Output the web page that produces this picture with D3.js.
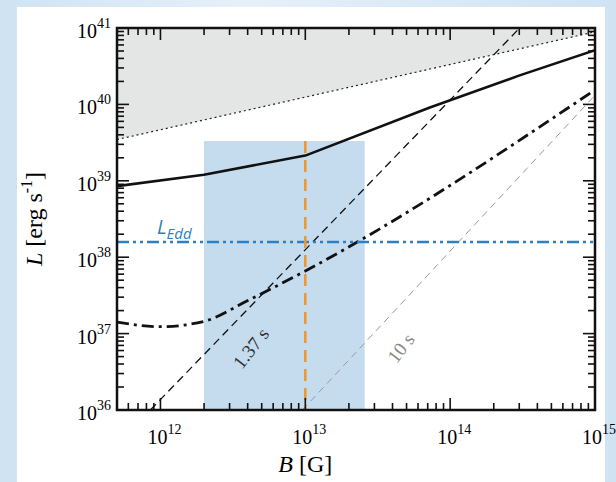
<!DOCTYPE html>
<html><head><meta charset="utf-8">
<script src="https://cdn.jsdelivr.net/npm/d3@7"></script>
</head><body style="margin:0">
<script>
// data (log10 values)
const dotted = [[11.70, 39.54], [15, 40.95]];
const solid = [[11.70, 38.93], [12.3, 39.08], [13, 39.33], [13.86, 39.96], [14.48, 40.38], [15, 40.71]];
const dashDot = [[11.70, 37.15], [12, 37.09], [12.3, 37.16], [12.6, 37.43], [13, 37.82], [15, 40.19]];
const lEdd = 38.2;
const line137 = [[11.93, 36], [14.48, 41]];
const line10 = [[12.98, 36], [15, 40.12]];
const band = [12.3, 13.41, 39.52];
const orangeX = 13;
const xTicks = [12, 13, 14, 15], yTicks = [36, 37, 38, 39, 40, 41];

const W = 616, H = 482, m = {l: 117, r: 21, t: 28, b: 72};
const svg = d3.select("body").append("svg").attr("width", W).attr("height", H).style("display","block");
const defs = svg.append("defs");
const gr = defs.append("linearGradient").attr("id", "bg");
gr.append("stop").attr("offset", "0").attr("stop-color", "#cfe3f3");
gr.append("stop").attr("offset", "0.4").attr("stop-color", "#e6f0f9");
gr.append("stop").attr("offset", "1").attr("stop-color", "#cfe3f3");
svg.append("rect").attr("width", W).attr("height", H).attr("fill", "url(#bg)");
svg.append("rect").attr("x", 17).attr("y", 7).attr("width", 588).attr("height", H).attr("fill", "#fff");

const x = d3.scaleLinear().domain([11.70, 15]).range([m.l, W - m.r]);
const y = d3.scaleLinear().domain([36, 41]).range([H - m.b, m.t]);
const line = d3.line().x(d => x(d[0])).y(d => y(d[1]));
defs.append("clipPath").attr("id","plotclip").append("rect")
  .attr("x", x(11.7)).attr("y", y(41)).attr("width", x(15)-x(11.7)).attr("height", y(36)-y(41));
const p = svg.append("g").attr("clip-path","url(#plotclip)");

p.append("path").attr("d", line([[11.7,41],...dotted,[15,41]])).attr("fill", "#e4e5e5");
p.append("rect").attr("x", x(band[0])).attr("y", y(band[2])).attr("width", x(band[1]) - x(band[0]))
  .attr("height", y(36) - y(band[2])).attr("fill", "#c5dcef");
p.append("path").attr("d", line(dotted)).attr("fill","none").attr("stroke","#222").attr("stroke-width",1.2).attr("stroke-dasharray","2,3");
p.append("path").attr("d", line(line10)).attr("fill","none").attr("stroke","#999").attr("stroke-width",1).attr("stroke-dasharray","7,5");
p.append("path").attr("d", line(line137)).attr("fill","none").attr("stroke","#111").attr("stroke-width",1.3).attr("stroke-dasharray","8,5");
p.append("path").attr("d", line(solid)).attr("fill","none").attr("stroke","#111").attr("stroke-width",2.6).attr("stroke-linejoin","round");
p.append("path").attr("d", d3.line().curve(d3.curveMonotoneX).x(d=>x(d[0])).y(d=>y(d[1]))(dashDot)).attr("fill","none").attr("stroke","#111").attr("stroke-width",2.8).attr("stroke-dasharray","12,5,3,5");
p.append("line").attr("x1", x(11.7)).attr("x2", x(15)).attr("y1", y(lEdd)).attr("y2", y(lEdd))
  .attr("stroke","#2f7fc1").attr("stroke-width",2.5).attr("stroke-dasharray","12,4,3,4,3,4");
p.append("line").attr("x1", x(orangeX)).attr("x2", x(orangeX)).attr("y1", y(band[2])).attr("y2", y(36))
  .attr("stroke","#f0952a").attr("stroke-width",2.5).attr("stroke-dasharray","12,7");

// ticks, inward and mirrored
function minors(lo, hi) { const r = []; for (let d = Math.floor(lo); d < hi; d++) for (let k = 1; k < 10; k++) { const v = d + Math.log10(k); if (v >= lo - 1e-9 && v <= hi + 1e-9) r.push([v, k === 1]); } return r; }
const tickG = svg.append("g");
minors(11.7, 15).forEach(([v, maj]) => {
  const L = maj ? 12 : 7;
  tickG.append("line").attr("x1", x(v)).attr("x2", x(v)).attr("y1", y(36)).attr("y2", y(36) - L).attr("stroke","#111").attr("stroke-width",1.6);
  tickG.append("line").attr("x1", x(v)).attr("x2", x(v)).attr("y1", y(41)).attr("y2", y(41) + L).attr("stroke","#111").attr("stroke-width",1.6);
});
minors(36, 41).forEach(([v, maj]) => {
  const L = maj ? 12 : 7;
  tickG.append("line").attr("y1", y(v)).attr("y2", y(v)).attr("x1", x(11.7)).attr("x2", x(11.7) + L).attr("stroke","#111").attr("stroke-width",1.6);
  tickG.append("line").attr("y1", y(v)).attr("y2", y(v)).attr("x1", x(15)).attr("x2", x(15) - L).attr("stroke","#111").attr("stroke-width",1.6);
});
svg.append("rect").attr("x", x(11.7)).attr("y", y(41)).attr("width", x(15)-x(11.7)).attr("height", y(36)-y(41))
  .attr("fill","none").attr("stroke","#111").attr("stroke-width",2.5);

const font = "'Liberation Serif', serif";
function pow(sel, base, e) { sel.append("tspan").text(base); sel.append("tspan").attr("dy", -10).attr("font-size", 14).text(e); }
xTicks.forEach(v => { const tx = svg.append("text").attr("x", x(v) + 4).attr("y", y(36) + 34).attr("text-anchor","middle").attr("font-family", font).attr("font-size", 20); pow(tx, "10", v); });
yTicks.forEach(v => { const tx = svg.append("text").attr("x", x(11.7) - 6).attr("y", y(v) + 10).attr("text-anchor","end").attr("font-family", font).attr("font-size", 20); pow(tx, "10", v); });

const xl = svg.append("text").attr("x", x(13)).attr("y", 472).attr("text-anchor","middle").attr("font-family", font).attr("font-size", 24);
xl.append("tspan").attr("font-style","italic").text("B"); xl.append("tspan").text(" [G]");
const yl = svg.append("text").attr("transform", `translate(42,${y(38.5)}) rotate(-90)`).attr("text-anchor","middle").attr("font-family", font).attr("font-size", 24);
yl.append("tspan").attr("font-style","italic").text("L"); yl.append("tspan").text(" [erg s");
yl.append("tspan").attr("dy", -10).attr("font-size", 16).text("-1"); yl.append("tspan").attr("dy", 10).text("]");

const le = svg.append("text").attr("x", 157).attr("y", 234).attr("fill","#2f7fc1").attr("font-family","'Open Sans', sans-serif").attr("font-style","italic").attr("font-size", 20);
le.append("tspan").text("L"); le.append("tspan").attr("dy", 5).attr("font-size", 15).text("Edd");

svg.append("text").attr("transform","translate(256,352) rotate(-52)").attr("text-anchor","middle").attr("font-family", font).attr("font-size", 19).attr("fill","#333").text("1.37 s");
svg.append("text").attr("transform","translate(406,352) rotate(-52)").attr("text-anchor","middle").attr("font-family", font).attr("font-size", 19).attr("fill","#888").text("10 s");
</script>
</body></html>
